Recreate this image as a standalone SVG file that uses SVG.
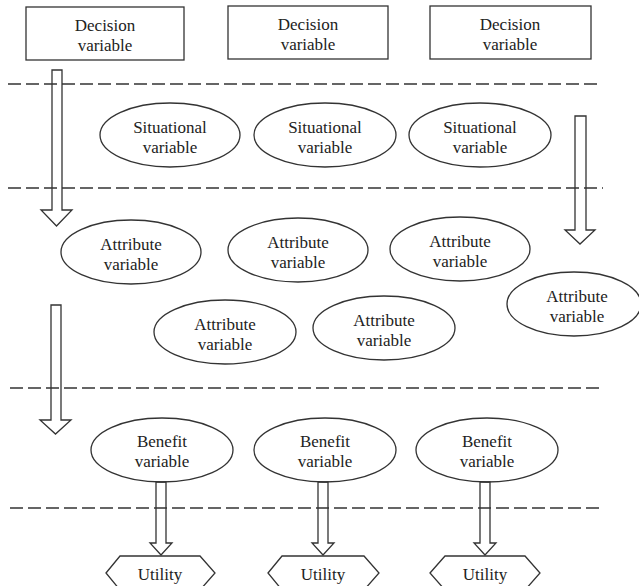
<svg xmlns="http://www.w3.org/2000/svg" width="639" height="586" viewBox="0 0 639 586">
<style>
.n{fill:#fff;stroke:#333;stroke-width:1.3}
.t{font-family:"Liberation Serif","Times New Roman",serif;font-size:17px;fill:#222;text-anchor:middle}
.d{stroke:#333;stroke-width:1.3;stroke-dasharray:13 5;fill:none}
.a{fill:none;stroke:#333;stroke-width:1.3;stroke-linejoin:miter}
</style>
<rect width="639" height="586" fill="#fff"/>
<g id="dividers">
<line class="d" x1="8" y1="84" x2="600" y2="84"/>
<line class="d" x1="8" y1="188" x2="603" y2="188"/>
<line class="d" x1="10" y1="388" x2="603" y2="388"/>
<line class="d" x1="10" y1="508" x2="603" y2="508"/>
</g>
<g id="decision1"><rect class="n" x="26" y="7" width="158" height="53"/><text class="t" x="105" y="31">Decision</text><text class="t" x="105" y="51">variable</text></g>
<g id="decision2"><rect class="n" x="228" y="6" width="160" height="53"/><text class="t" x="308" y="30">Decision</text><text class="t" x="308" y="50">variable</text></g>
<g id="decision3"><rect class="n" x="430" y="6" width="161" height="53"/><text class="t" x="510" y="30">Decision</text><text class="t" x="510" y="50">variable</text></g>
<g id="situational1"><ellipse class="n" cx="170" cy="135" rx="70" ry="32"/><text class="t" x="170" y="133">Situational</text><text class="t" x="170" y="153">variable</text></g>
<g id="situational2"><ellipse class="n" cx="325" cy="135" rx="71" ry="32"/><text class="t" x="325" y="133">Situational</text><text class="t" x="325" y="153">variable</text></g>
<g id="situational3"><ellipse class="n" cx="480" cy="135" rx="71" ry="32"/><text class="t" x="480" y="133">Situational</text><text class="t" x="480" y="153">variable</text></g>
<g id="attribute1"><ellipse class="n" cx="131" cy="252" rx="70" ry="32"/><text class="t" x="131" y="250">Attribute</text><text class="t" x="131" y="270">variable</text></g>
<g id="attribute2"><ellipse class="n" cx="298" cy="250" rx="70" ry="32"/><text class="t" x="298" y="248">Attribute</text><text class="t" x="298" y="268">variable</text></g>
<g id="attribute3"><ellipse class="n" cx="460" cy="249" rx="70" ry="32"/><text class="t" x="460" y="247">Attribute</text><text class="t" x="460" y="267">variable</text></g>
<g id="attribute4"><ellipse class="n" cx="574" cy="304" rx="67" ry="32"/><text class="t" x="577" y="302">Attribute</text><text class="t" x="577" y="322">variable</text></g>
<g id="attribute5"><ellipse class="n" cx="225" cy="332" rx="71" ry="32"/><text class="t" x="225" y="330">Attribute</text><text class="t" x="225" y="350">variable</text></g>
<g id="attribute6"><ellipse class="n" cx="384" cy="328" rx="71" ry="32"/><text class="t" x="384" y="326">Attribute</text><text class="t" x="384" y="346">variable</text></g>
<g id="benefit1"><ellipse class="n" cx="162" cy="450" rx="71" ry="32"/><text class="t" x="162" y="447">Benefit</text><text class="t" x="162" y="467">variable</text></g>
<g id="benefit2"><ellipse class="n" cx="325" cy="450" rx="71" ry="32"/><text class="t" x="325" y="447">Benefit</text><text class="t" x="325" y="467">variable</text></g>
<g id="benefit3"><ellipse class="n" cx="487" cy="450" rx="71" ry="32"/><text class="t" x="487" y="447">Benefit</text><text class="t" x="487" y="467">variable</text></g>
<g id="utility1"><polygon class="n" points="106,573 120,556 200,556 215,573 200,590 120,590"/><text class="t" x="160" y="580">Utility</text></g>
<g id="utility2"><polygon class="n" points="268,573 282,556 364,556 379,573 364,590 282,590"/><text class="t" x="323" y="580">Utility</text></g>
<g id="utility3"><polygon class="n" points="430,573 445,556 525,556 540,573 525,590 445,590"/><text class="t" x="485" y="580">Utility</text></g>
<g id="connectors">
<polygon class="a" points="52,70 62,70 62,210 72,210 56.5,226 41,210 52,210"/>
<polygon class="a" points="575,116 586,116 586,230 595,230 580,244 565,230 575,230"/>
<polygon class="a" points="51,305 61,305 61,420 71,420 55.5,434 40,420 51,420"/>
<polygon class="a" points="156,482 166,482 166,543 172,543 161,555 150,543 156,543"/>
<polygon class="a" points="318,482 328,482 328,543 334,543 323,555 312,543 318,543"/>
<polygon class="a" points="480,482 490,482 490,543 496,543 485,555 474,543 480,543"/>
</g>
</svg>
